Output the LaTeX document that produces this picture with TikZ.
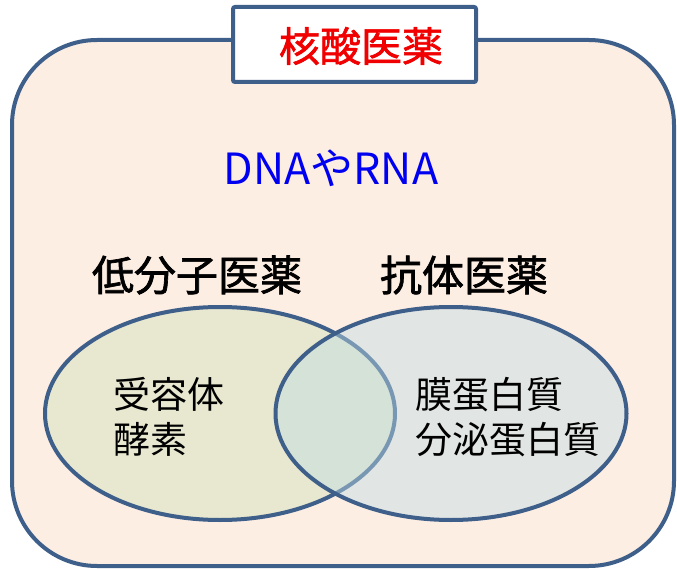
\documentclass[tikz,border=0pt]{standalone}
\usepackage{fontspec}
\usetikzlibrary{shapes.geometric}
\setmainfont{Noto Sans CJK JP}
\newfontfamily\medjp{Noto Sans CJK JP}[FakeBold=1.6]
\definecolor{frameblue}{RGB}{62,95,138}
\definecolor{peach}{RGB}{253,238,228}
\definecolor{olivefill}{RGB}{232,231,207}
\definecolor{bluefill}{RGB}{191,220,228}
\definecolor{titlered}{RGB}{240,0,0}
\definecolor{textblue}{RGB}{0,0,240}
\tikzset{
  frame/.style={draw=frameblue, line width=4pt},
  bodytext/.style={font=\fontsize{37}{45}\selectfont, align=left, inner sep=0pt, anchor=west},
  headtext/.style={font=\medjp\fontsize{42}{50}\selectfont, inner sep=0pt},
}
\begin{document}
\begin{tikzpicture}[x=1pt,y=-1pt]
\useasboundingbox (0,0) rectangle (677,569);
% outer frame
\draw[frame, fill=peach, rounded corners=85pt] (12,40) rectangle (674,566);
% title box
\node[frame, fill=white, rounded corners=2pt, minimum width=243pt, minimum height=75pt, inner sep=0pt] (titlebox) at (354.5,44.5) {};
\node[text=titlered, font=\medjp\fontsize{41}{48}\selectfont, inner sep=0pt] (title) at (361,46) {核酸医薬};
% DNA/RNA
\node[text=textblue, font=\fontsize{43}{50}\selectfont, inner sep=0pt] (dna) at (331,168) {DNAやRNA};
% headings
\node[headtext] (small) at (197,275) {低分子医薬};
\node[headtext] (anti) at (464,275) {抗体医薬};
% Venn
\node[frame, fill=olivefill, ellipse, minimum width=350pt, minimum height=213pt, inner sep=0pt] (left) at (220,413.5) {};
\fill[bluefill, fill opacity=0.45] (451,413.5) ellipse [x radius=175.5, y radius=106.5];
\draw[frame] (451,413.5) ellipse [x radius=175.5, y radius=106.5];
\coordinate (right) at (451,413.5);
% texts
\node[bodytext] (ltext) at (113,417) {受容体\\酵素};
\node[bodytext] (rtext) at (415,417) {膜蛋白質\\分泌蛋白質};
\end{tikzpicture}
\end{document}
